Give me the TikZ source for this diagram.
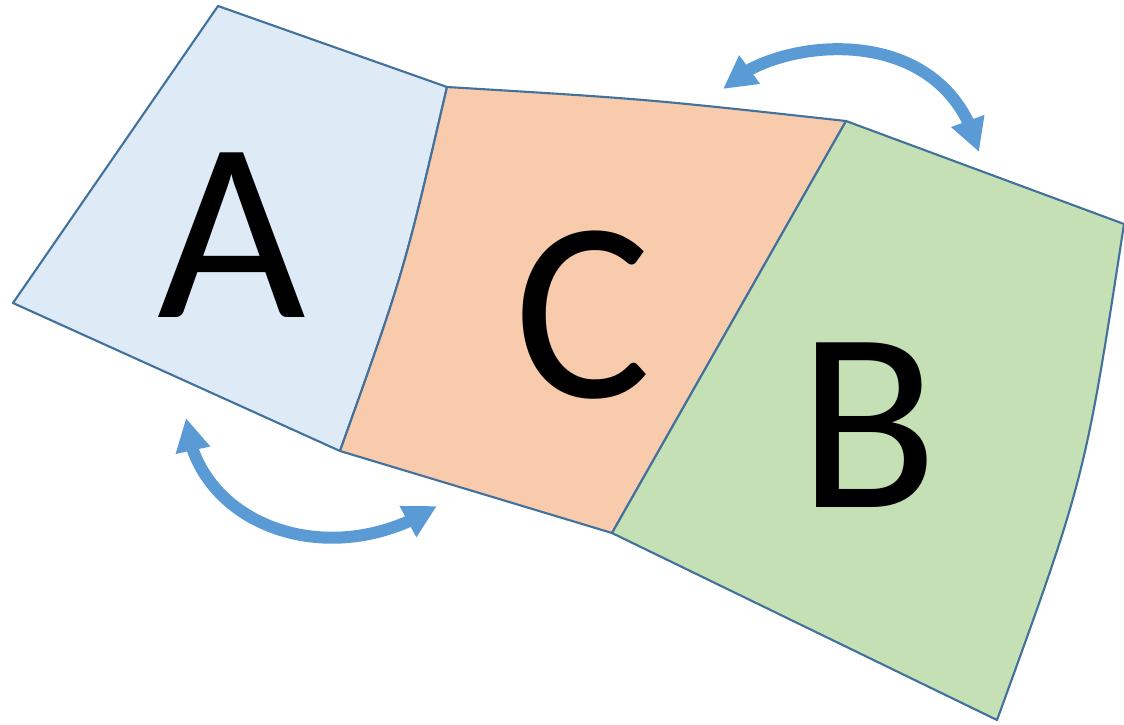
\documentclass[tikz,border=0pt]{standalone}
\usepackage{fontspec}
\setmainfont{Carlito}
\usetikzlibrary{arrows.meta,bending}

\definecolor{edgeblue}{HTML}{41719C}
\definecolor{arrowblue}{HTML}{5B9BD5}
\definecolor{fillA}{HTML}{DEEBF7}
\definecolor{fillC}{HTML}{F8CBAD}
\definecolor{fillB}{HTML}{C5E0B4}

\begin{document}
\begin{tikzpicture}[
    x=0.01cm, y=-0.01cm,
    panel/.style={draw=edgeblue, line width=0.6pt, line join=round},
    letter/.style={font=\fontsize{73}{73}\selectfont, inner sep=0pt},
    swap/.style={{Triangle[width=0.33cm,length=0.33cm]}-{Triangle[width=0.33cm,length=0.33cm]}, line width=0.12cm, draw=arrowblue}
]
\useasboundingbox (0,0) rectangle (1124,724);

% Corners of the three panels
\coordinate (a1) at (218,6);
\coordinate (a2) at (13,303);
\coordinate (ac1) at (447,87);
\coordinate (ac2) at (340,451);
\coordinate (cb1) at (846,121);
\coordinate (cb2) at (612,533);
\coordinate (b1) at (1124,224);
\coordinate (b2) at (997,720);

% Panels
\draw[panel, fill=fillA] (a1) -- (ac1) .. controls (404,272) .. (ac2) -- (a2) -- cycle;
\draw[panel, fill=fillC] (ac1) .. controls (646,99) .. (cb1) -- (cb2) -- (ac2) .. controls (404,272) .. (ac1) -- cycle;
\draw[panel, fill=fillB] (cb1) -- (b1) .. controls (1085,478) .. (b2) -- (cb2) -- cycle;

% Letters
\node[letter] (A) at (232,235) {A};
\node[letter] (C) at (583,315) {C};
\node[letter] (B) at (868,425) {B};

% Swap arrows
\draw[swap] (186,418) .. controls (195,525) and (330,575) .. (437,506);
\draw[swap] (723,89) .. controls (770,38) and (945,15) .. (979,152);

\end{tikzpicture}
\end{document}
